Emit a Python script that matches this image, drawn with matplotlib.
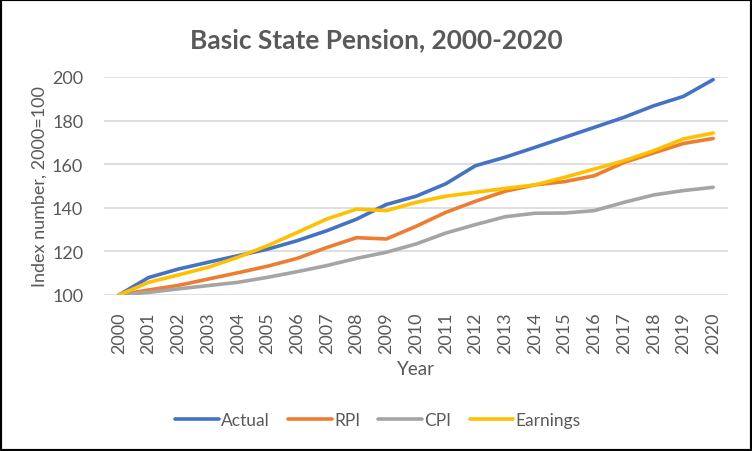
import numpy as np
import matplotlib
matplotlib.use("Agg")
import matplotlib.pyplot as plt
from matplotlib.patches import Rectangle

plt.rcParams['font.family'] = ['Lato', 'DejaVu Sans']

years = [str(y) for y in range(2000, 2021)]

actual   = [100, 108.0, 111.9, 115.0, 118.0, 121.0, 124.9, 129.5, 134.8, 141.5, 145.3,
            151.0, 159.3, 163.2, 167.7, 172.3, 176.9, 181.5, 186.8, 191.1, 198.8]
rpi      = [100, 102.3, 104.4, 107.3, 110.2, 113.2, 116.8, 121.8, 126.3, 125.7, 131.5,
            137.9, 143.0, 147.6, 150.5, 152.0, 154.7, 160.8, 165.2, 169.5, 171.8]
cpi      = [100, 101.2, 102.8, 104.3, 105.8, 108.1, 110.7, 113.5, 116.8, 119.6, 123.4,
            128.4, 132.3, 135.9, 137.5, 137.6, 138.7, 142.5, 145.9, 147.9, 149.4]
earnings = [100, 105.8, 109.2, 112.7, 117.3, 122.6, 128.7, 134.9, 139.4, 138.7, 142.5,
            145.3, 147.1, 148.9, 150.5, 154.0, 157.8, 161.6, 166.2, 171.6, 174.3]

series_names = ["Actual", "RPI", "CPI", "Earnings"]
series_vals = [actual, rpi, cpi, earnings]
colors = ["#4472C4", "#ED7D31", "#A5A5A5", "#FFC000"]

txt = "#595959"

fig = plt.figure(figsize=(7.52, 4.52), dpi=100)
ax = fig.add_axes([104/752, 1 - 296/452, 624/752, 218/452])

x = np.arange(len(years))
for name, vals, c in zip(series_names, series_vals, colors):
    ax.plot(x, vals, color=c, linewidth=2.6, label=name, solid_capstyle="round")

ax.set_xlim(-0.5, len(years) - 0.5)
ax.set_ylim(100, 200)
ax.set_yticks([100, 120, 140, 160, 180, 200])
ax.set_xticks(x)
ax.set_xticklabels(years, rotation=90, fontsize=13, color=txt)
ax.tick_params(axis="y", labelsize=13, labelcolor=txt, length=0, pad=15)
ax.tick_params(axis="x", length=0, pad=12)
ax.grid(axis="y", color="#D9D9D9", linewidth=1.2)
ax.set_axisbelow(True)
for s in ax.spines.values():
    s.set_visible(False)

ax.set_xlabel("Year", fontsize=13.5, color=txt, labelpad=5)
ax.set_ylabel("Index number, 2000=100", fontsize=13, color=txt, labelpad=3)

fig.text(0.5, 1 - 40/452, "Basic State Pension, 2000-2020", ha="center", va="center",
         fontsize=18.9, fontweight="bold", color=txt)

fig.legend(loc="center", bbox_to_anchor=(378/752, 1 - 421/452), ncol=4, frameon=False,
           fontsize=12.5, labelcolor=txt, handlelength=2.5, handletextpad=0.15,
           columnspacing=1.05)

fig.patches.append(Rectangle((0, 0), 1, 1, transform=fig.transFigure, fill=False,
                             edgecolor="black", linewidth=3))

fig.savefig("out.png", dpi=100)
